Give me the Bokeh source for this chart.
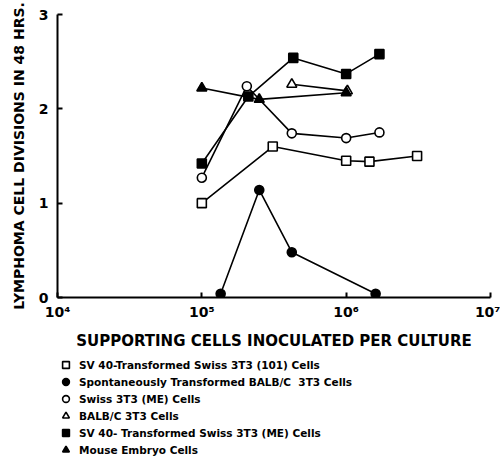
from bokeh.plotting import figure
from bokeh.layouts import column
from bokeh.models import FixedTicker, Legend, LegendItem, Range1d
from bokeh.embed import file_html
from bokeh.resources import INLINE

# ---- data ----
sv40_101_x = [1.0e5, 3.1e5, 1.0e6, 1.45e6, 3.1e6]
sv40_101_y = [1.00, 1.60, 1.45, 1.44, 1.50]

spont_x = [1.35e5, 2.5e5, 4.2e5, 1.6e6]
spont_y = [0.04, 1.14, 0.48, 0.04]

swiss_me_x = [1.0e5, 2.05e5, 4.2e5, 1.0e6, 1.7e6]
swiss_me_y = [1.27, 2.24, 1.74, 1.69, 1.75]

balbc_x = [4.2e5, 1.02e6]
balbc_y = [2.26, 2.19]

sv40_me_x = [1.0e5, 2.1e5, 4.3e5, 1.0e6, 1.7e6]
sv40_me_y = [1.42, 2.13, 2.54, 2.37, 2.58]

embryo_x = [1.0e5, 2.5e5, 1.0e6]
embryo_y = [2.22, 2.10, 2.17]

x_ticks = [10000, 100000, 1000000, 10000000]
x_tick_labels = ["10\u2074", "10\u2075", "10\u2076", "10\u2077"]
y_ticks = [0, 1, 2, 3]

series = [
    ("SV 40-Transformed Swiss 3T3 (101) Cells", sv40_101_x, sv40_101_y, "square", "white"),
    ("Spontaneously Transformed BALB/C  3T3 Cells", spont_x, spont_y, "circle", "black"),
    ("Swiss 3T3 (ME) Cells", swiss_me_x, swiss_me_y, "circle", "white"),
    ("BALB/C 3T3 Cells", balbc_x, balbc_y, "triangle", "white"),
    ("SV 40- Transformed Swiss 3T3 (ME) Cells", sv40_me_x, sv40_me_y, "square", "black"),
    ("Mouse Embryo Cells", embryo_x, embryo_y, "triangle", "black"),
]

FONT = "DejaVu Sans"

# ---------------- main chart ----------------
p = figure(
    x_axis_type="log",
    x_range=Range1d(1e4, 1e7),
    y_range=Range1d(0, 3),
    width=500, height=352,
    min_border_left=57, min_border_top=14, min_border_right=10, min_border_bottom=54,
    output_backend="svg", toolbar_location=None,
)
p.outline_line_color = None
p.xgrid.grid_line_color = None
p.ygrid.grid_line_color = None

for label, xs, ys, marker, fill in series:
    p.line(xs, ys, line_color="black", line_width=1.6)
for label, xs, ys, marker, fill in series:
    size = 9 if marker != "triangle" else 10
    p.scatter(xs, ys, marker=marker, size=size, fill_color=fill,
              line_color="black", line_width=1.6)

xa = p.xaxis[0]
xa.ticker = FixedTicker(ticks=x_ticks)
xa.major_label_overrides = {t: l for t, l in zip(x_ticks, x_tick_labels)}
xa.minor_tick_line_color = None
xa.major_tick_in = 5
xa.major_tick_out = 0
xa.axis_line_width = 2
xa.major_tick_line_width = 2
xa.major_label_text_font = FONT
xa.major_label_text_font_style = "bold"
xa.major_label_text_font_size = "14px"
xa.major_label_text_color = "black"
xa.major_label_standoff = 6
xa.axis_label = "SUPPORTING CELLS INOCULATED PER CULTURE"
xa.axis_label_text_font = FONT
xa.axis_label_text_font_style = "bold"
xa.axis_label_text_font_size = "15px"
xa.axis_label_text_color = "black"
xa.axis_label_standoff = 9

ya = p.yaxis[0]
ya.ticker = FixedTicker(ticks=y_ticks)
ya.minor_tick_line_color = None
ya.major_tick_in = 5
ya.major_tick_out = 0
ya.axis_line_width = 2
ya.major_tick_line_width = 2
ya.major_label_text_font = FONT
ya.major_label_text_font_style = "bold"
ya.major_label_text_font_size = "14px"
ya.major_label_text_color = "black"
ya.major_label_standoff = 9
ya.axis_label = "LYMPHOMA CELL DIVISIONS IN 48 HRS."
ya.axis_label_text_font = FONT
ya.axis_label_text_font_style = "bold"
ya.axis_label_text_font_size = "14px"
ya.axis_label_text_color = "black"
ya.axis_label_standoff = 9

# ---------------- legend panel ----------------
lg = figure(
    width=500, height=110,
    x_range=Range1d(0, 1), y_range=Range1d(0, 1),
    min_border=0, x_axis_location=None, y_axis_location=None,
    output_backend="svg", toolbar_location=None,
)
lg.outline_line_color = None
lg.xgrid.grid_line_color = None
lg.ygrid.grid_line_color = None

nan = float("nan")
items = []
for label, xs, ys, marker, fill in series:
    # legend-only renderers: a single undrawable (NaN) point
    r = lg.scatter(x=[nan], y=[nan], marker=marker, fill_color=fill,
                   line_color="black", line_width=1.6)
    items.append(LegendItem(label=label, renderers=[r]))

legend = Legend(items=items, location=(0, 4), orientation="vertical")
legend.border_line_color = None
legend.background_fill_alpha = 0
legend.margin = 0
legend.padding = 0
legend.glyph_width = 17
legend.glyph_height = 17
legend.label_height = 17
legend.spacing = 0
legend.label_standoff = 5
legend.label_text_font = FONT
legend.label_text_font_style = "bold"
legend.label_text_font_size = "10.5px"
legend.label_text_color = "black"
lg.add_layout(legend)

layout = column(p, lg, spacing=0)
open("out.html", "w").write(file_html(layout, INLINE))
